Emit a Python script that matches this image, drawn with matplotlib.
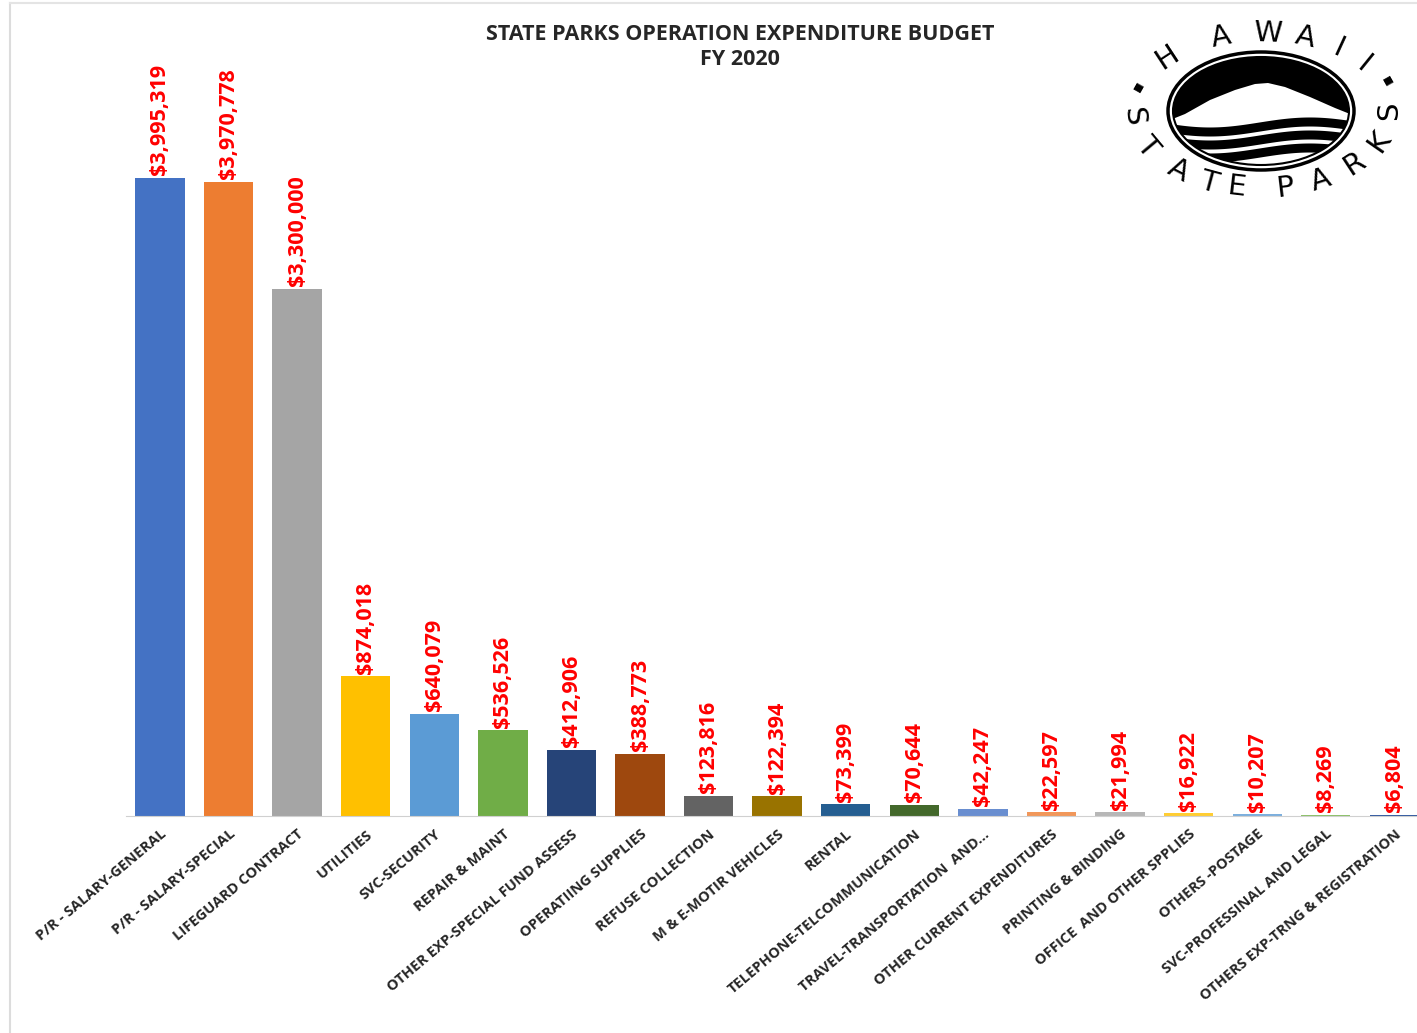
import matplotlib
matplotlib.use("Agg")
from matplotlib import pyplot as plt
from matplotlib.patches import Ellipse, Polygon
from matplotlib.lines import Line2D
import numpy as np

categories = ["P/R - SALARY-GENERAL", "P/R - SALARY-SPECIAL", "LIFEGUARD CONTRACT", "UTILITIES",
              "SVC-SECURITY", "REPAIR & MAINT", "OTHER EXP-SPECIAL FUND ASSESS", "OPERATIING SUPPLIES",
              "REFUSE COLLECTION", "M & E-MOTIR VEHICLES", "RENTAL", "TELEPHONE-TELCOMMUNICATION",
              "TRAVEL-TRANSPORTATION  AND...", "OTHER CURRENT EXPENDITURES", "PRINTING & BINDING",
              "OFFICE  AND OTHER SPPLIES", "OTHERS -POSTAGE", "SVC-PROFESSINAL AND LEGAL",
              "OTHERS EXP-TRNG & REGISTRATION"]
values = [3995319, 3970778, 3300000, 874018, 640079, 536526, 412906, 388773, 123816, 122394,
          73399, 70644, 42247, 22597, 21994, 16922, 10207, 8269, 6804]
colors = ["#4472C4", "#ED7D31", "#A5A5A5", "#FFC000", "#5B9BD5", "#70AD47", "#264478", "#9E480E",
          "#636363", "#997300", "#255E91", "#43682B", "#698ED0", "#F1975A", "#B7B7B7", "#FFCD33",
          "#7CAFDD", "#8CC168", "#335AA1"]

title = "STATE PARKS OPERATION EXPENDITURE BUDGET\nFY 2020"

W, H = 1417, 1033
fig = plt.figure(figsize=(W / 100, H / 100), dpi=100)
# light frame on left and top, like the screenshot
fig.lines.append(Line2D([10 / W, 10 / W], [0, 1 - 3 / H], transform=fig.transFigure,
                        color="#dcdcdc", lw=1.5))
fig.lines.append(Line2D([10 / W, 1], [1 - 3 / H, 1 - 3 / H], transform=fig.transFigure,
                        color="#e4e4e4", lw=1.5))

ax = fig.add_axes([125.7 / W, (H - 816) / H, 1 - 125.7 / W, 806 / H])
x = np.arange(len(values))
bars = ax.bar(x, values, width=0.72, color=colors)
ax.set_xlim(-0.5, 18.33)
ax.set_ylim(0, 806 / (638 / 3995319))

for b, v in zip(bars, values):
    ax.annotate("${:,}".format(v), (b.get_x() + b.get_width() / 2, b.get_height()),
                xytext=(0, 2), textcoords="offset points", rotation=90,
                ha="center", va="bottom", color="#ff0000", fontsize=15.5,
                fontweight="bold", family="Open Sans")

ax.set_xticks(x)
ax.set_xticklabels(categories, rotation=40, ha="right", rotation_mode="anchor",
                   fontsize=10.5, fontweight="bold", family="Open Sans", color="#262626")
ax.tick_params(axis="x", length=0, pad=8)
ax.set_yticks([])
for s in ["top", "left", "right"]:
    ax.spines[s].set_visible(False)
ax.spines["bottom"].set_color("#d0d0d0")

fig.text(740 / W, 1 - 47 / H, title, ha="center", va="center", fontsize=15.5,
         fontweight="bold", family="Open Sans", color="#262626", linespacing=1.25)

# logo, drawn in pixel coordinates
lg = fig.add_axes([1100 / W, (H - 220) / H, 317 / W, 220 / H])
lg.set_xlim(1100, 1417)
lg.set_ylim(220, 0)
lg.axis("off")
cx, cy = 1261, 111
inner = Ellipse((cx, cy), 176, 108, facecolor="black", edgecolor="none")
lg.add_patch(inner)
mountain = Polygon([(1160, 124), (1185, 114), (1210, 100), (1235, 90), (1255, 84), (1268, 83),
                    (1285, 87), (1310, 97), (1335, 108), (1360, 118), (1360, 170), (1160, 170)],
                   closed=True, facecolor="white", edgecolor="none")
lg.add_patch(mountain)
mountain.set_clip_path(inner)
xs = np.linspace(1160, 1360, 80)
for y0, lw in [(127, 6.5), (140, 6.5), (153, 6.5)]:
    ln, = lg.plot(xs, y0 + 5 * np.sin((xs - 1160) / 200 * 2 * np.pi), color="black", lw=lw,
                  solid_capstyle="butt")
    ln.set_clip_path(inner)
lg.add_patch(Ellipse((cx, cy), 176, 108, fill=False, edgecolor="black", lw=1.5))
lg.add_patch(Ellipse((cx, cy), 186, 118, fill=False, edgecolor="black", lw=2.5))

a_r, b_r = 128, 78
top_letters = ["\u00b7", "H", "A", "W", "A", "I", "I", "\u00b7"]
top_ang = np.radians([161, 137, 108, 87, 70, 53, 37, 19])
for ch, t in zip(top_letters, top_ang):
    px, py = cx + a_r * np.cos(t), cy - b_r * np.sin(t)
    rot = np.degrees(np.arctan2(b_r * np.cos(t), a_r * np.sin(t)))
    lg.text(px, py, ch, rotation=-rot, ha="center", va="center",
            fontsize=30 if ch == "\u00b7" else 21, fontweight="bold" if ch == "\u00b7" else "normal",
            family="DejaVu Sans", rotation_mode="anchor")
bot_letters = ["S", "T", "A", "T", "E", "P", "A", "R", "K", "S"]
bot_ang = np.radians([184, 207, 230, 246, 259, 281, 298, 317, 337, 360])
for ch, t in zip(bot_letters, bot_ang):
    px, py = cx + a_r * np.cos(t), cy - b_r * np.sin(t)
    rot = np.degrees(np.arctan2(-b_r * np.cos(t), -a_r * np.sin(t)))
    lg.text(px, py, ch, rotation=-rot, ha="center", va="center", fontsize=21,
            family="DejaVu Sans", rotation_mode="anchor")

plt.savefig("out.png", dpi=100)
